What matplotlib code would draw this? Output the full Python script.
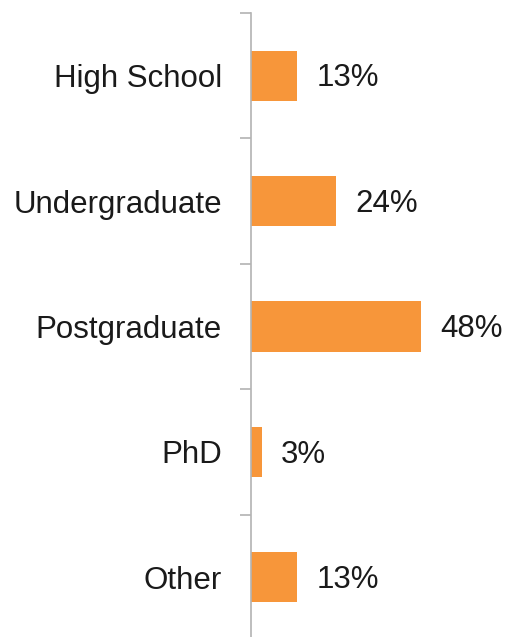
import matplotlib.pyplot as plt
import numpy as np

# Education level shares
categories = ["High School", "Undergraduate", "Postgraduate", "PhD", "Other"]
shares = [13, 24, 48, 3, 13]

plt.rcParams['font.family'] = ['Liberation Sans', 'DejaVu Sans']

fig = plt.figure(figsize=(5.08, 6.37), dpi=100)
ax = fig.add_axes([251 / 508, -3 / 637, 1 - 251 / 508, 627 / 637])

y = np.arange(len(categories))
ax.barh(y, shares, height=0.4, color="#F7963A")

ax.set_ylim(len(categories) - 0.5, -0.5)
ax.set_xlim(0, 72.6)

for yi, v in zip(y, shares):
    ax.annotate(f"{v}%", (v, yi), xytext=(14, -2), textcoords="offset points",
                va="center", ha="left", fontsize=22.5, color="#1a1a1a")

# category labels without tick marks, boundary ticks as minor ticks
ax.set_yticks(y)
ax.set_yticklabels(categories, fontsize=22.5, color="#1a1a1a")
ax.tick_params(axis="y", which="major", length=0, pad=21)
ax.set_yticks(np.arange(-0.5, len(categories), 1), minor=True)
ax.tick_params(axis="y", which="minor", length=8, width=1.2, color="#b3b3b3")

ax.set_xticks([])
for s in ["top", "right", "bottom"]:
    ax.spines[s].set_visible(False)
ax.spines["left"].set_color("#b3b3b3")
ax.spines["left"].set_linewidth(1.2)

fig.savefig("out.png", dpi=100)
